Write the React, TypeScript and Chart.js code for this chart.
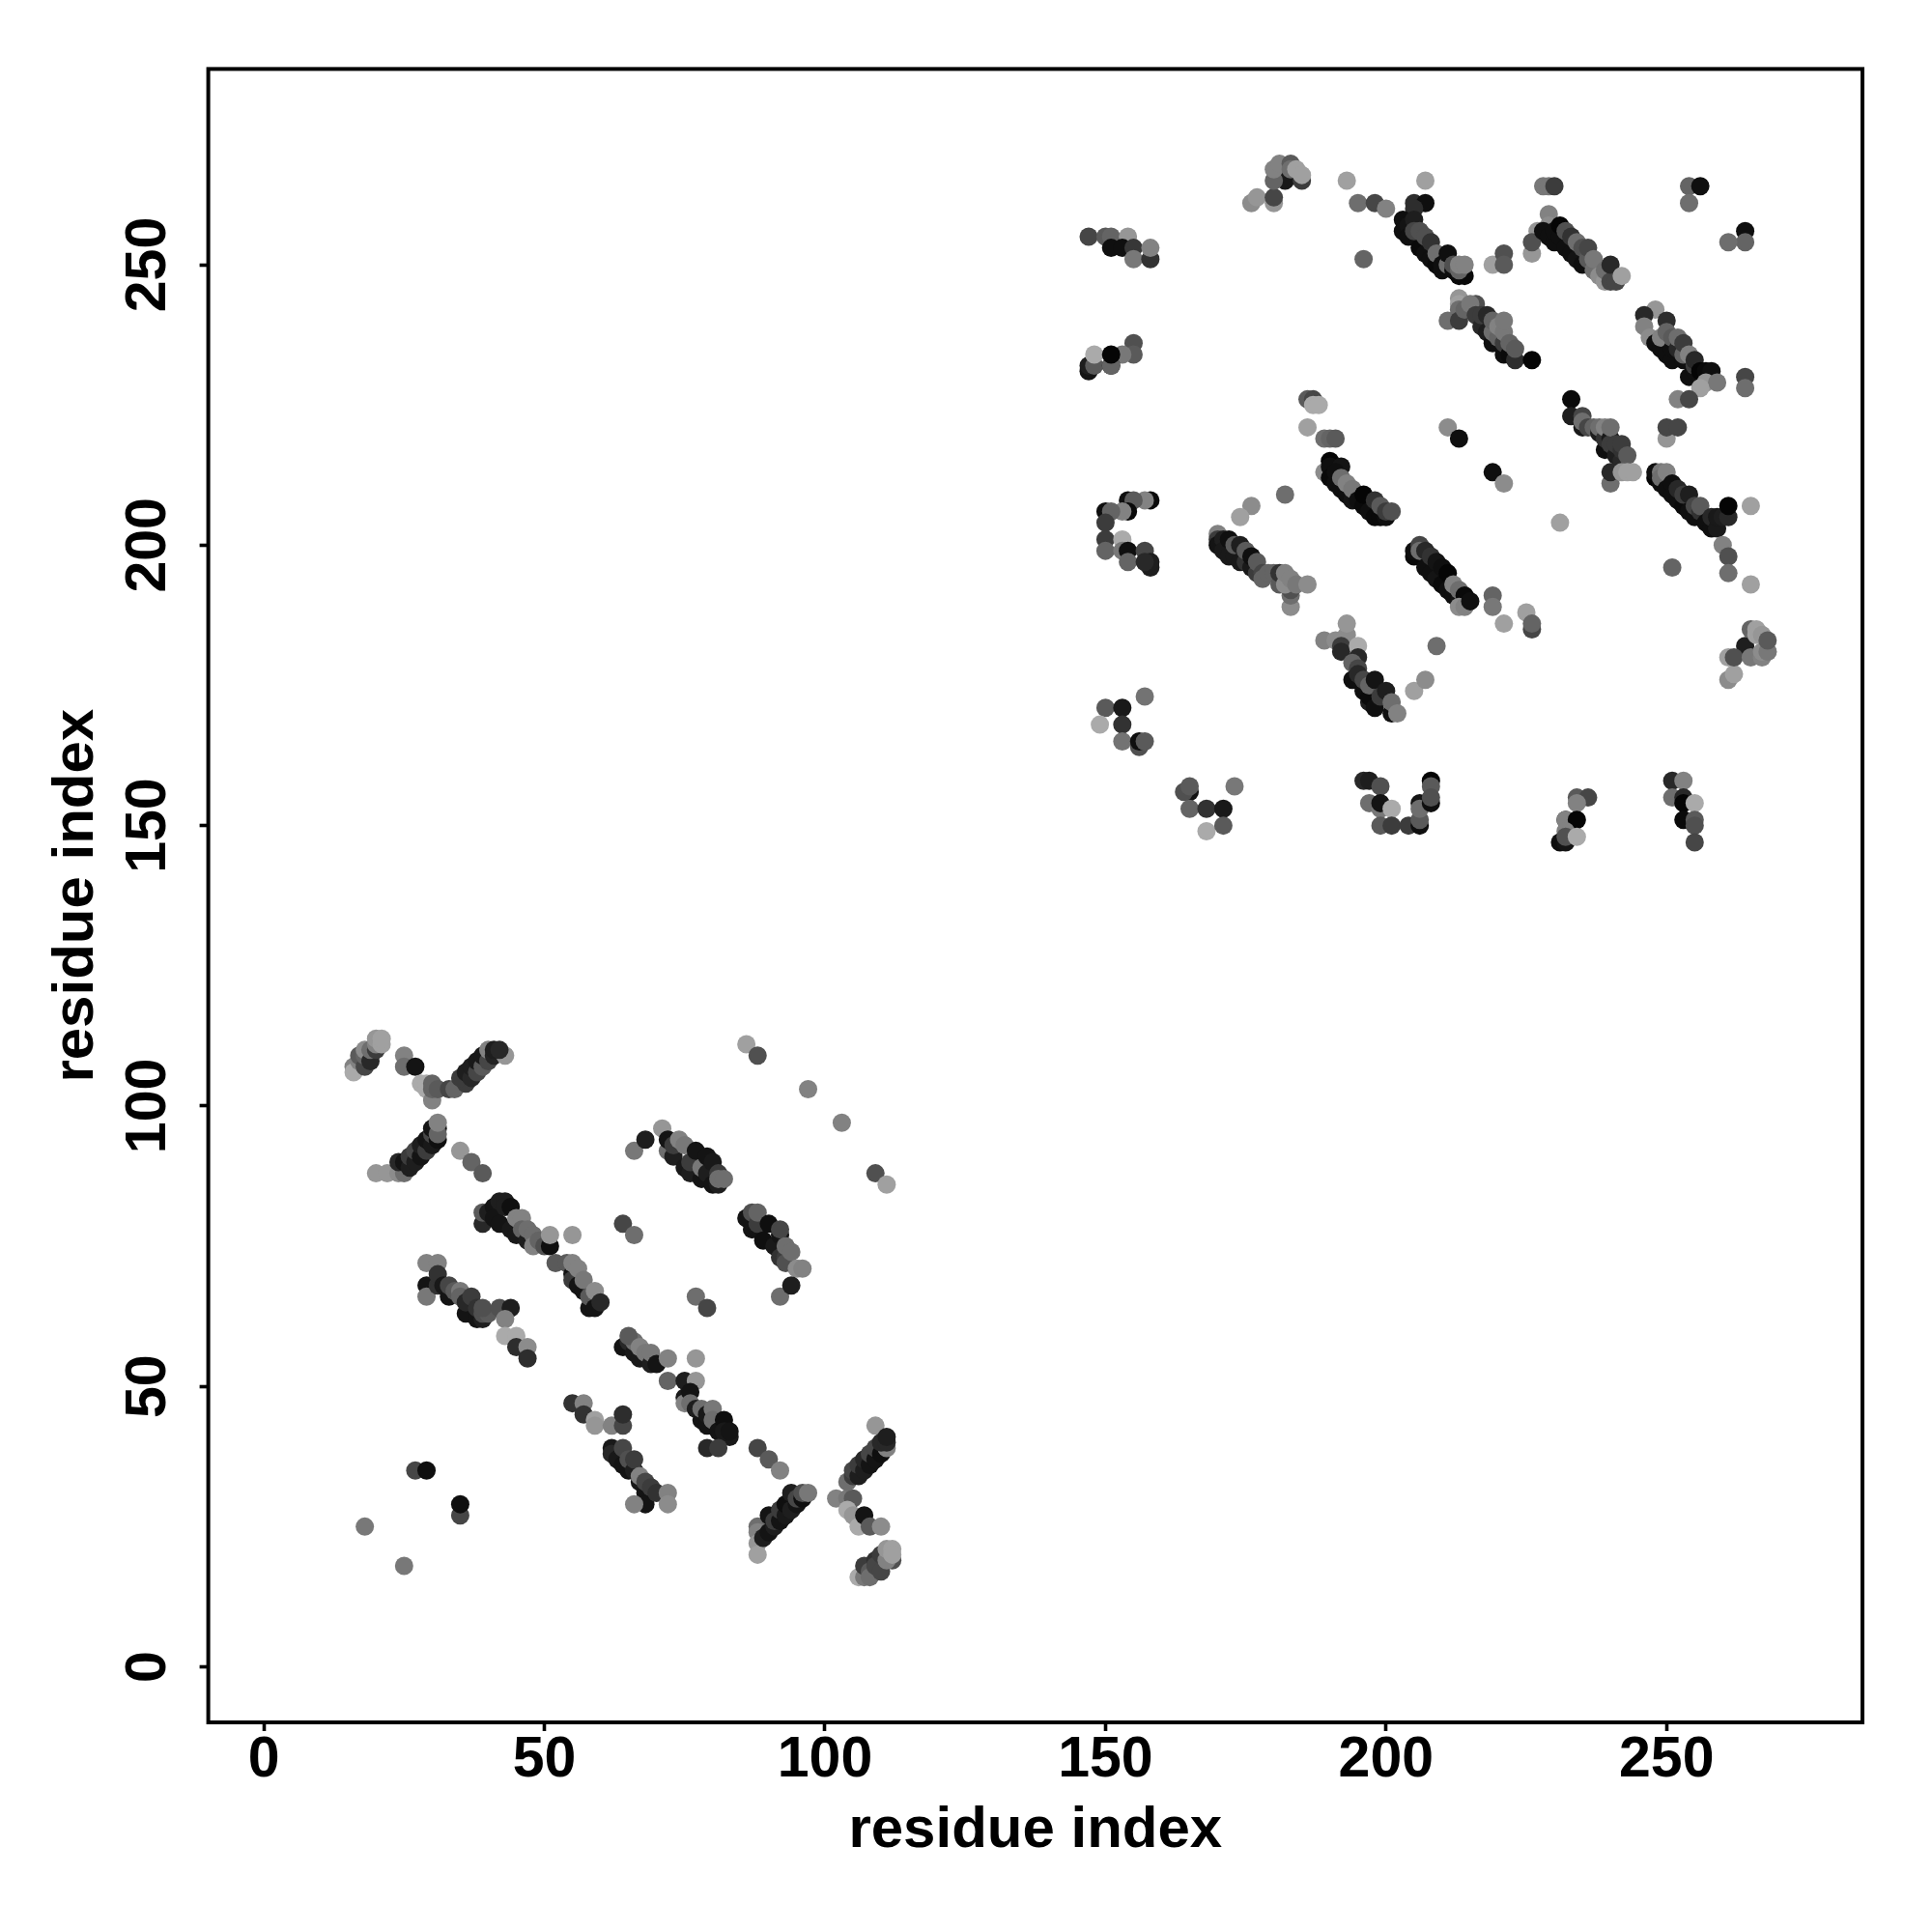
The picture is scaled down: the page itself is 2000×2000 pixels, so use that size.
import React, { useEffect, useRef } from "react";
import { Chart, registerables } from "chart.js";

Chart.register(...registerables);

// Each contact is [residue x, residue y, grey level of the contact].
type Contact = [number, number, number];

const tickValues = [0, 50, 100, 150, 200, 250];
const axisTitle = "residue index";

const lowerHairpinTop: Contact[] = [
  [16,107,130],[16,106,170],[17,108,130],[17,109,90],[18,107,70],[18,109,100],[18,110,140],[19,108,40],[19,110,110],[20,110,60],[20,111,130],[20,112,150],[21,111,160],[21,112,160],
  [25,109,130],[25,107,110],[27,107,20],[28,104,170],[29,103,170],[29,104,170],[30,101,130],[30,103,100],[30,104,100],[31,103,90],[33,103,70],[34,103,100],
  [36,104,60],[35,105,60],[36,106,30],[37,105,40],[37,107,30],[38,106,70],[38,108,25],[39,107,90],[39,109,25],[40,108,70],[40,110,130],[41,109,35],[41,110,30],[43,109,150],[42,110,40],
];
const lowerHairpinBottom: Contact[] = [
  [20,88,150],[22,88,150],[24,88,140],[25,88,110],[24,90,40],[25,90,20],[26,89,30],[26,91,60],[27,90,30],[27,92,70],[28,91,20],[28,93,30],[29,92,60],[29,94,20],[30,93,25],[30,95,70],[31,94,15],[31,96,20],[30,96,20],[31,95,100],[31,97,130],
  [35,92,150],[37,90,100],[39,88,90],
];
const lowerStrandA: Contact[] = [
  [39,79,40],[39,81,90],[40,81,30],[41,82,20],[41,80,20],[42,83,30],[42,79,20],[43,83,30],[43,82,30],[44,82,15],[44,78,25],[45,77,25],[45,80,130],[46,80,130],[46,78,100],[47,76,30],[47,78,110],[48,77,110],[48,75,130],[49,76,100],[50,75,80],[51,75,15],[51,77,150],[55,77,150],[52,72,90],
  [64,79,70],[66,77,110],
];
const lowerStrandB: Contact[] = [
  [54,72,90],[55,70,20],[55,69,60],[55,72,130],[56,68,20],[56,71,130],[57,67,20],[57,69,120],[58,64,20],[58,66,90],[59,64,20],[59,67,140],[60,65,40],
];
const lowerStrandC: Contact[] = [
  [29,72,130],[29,68,20],[29,66,120],[31,72,130],[31,68,50],[31,70,50],[32,68,25],[33,66,20],[33,68,70],[34,67,90],[35,67,120],[35,66,100],[36,63,20],[36,65,40],[37,66,60],[38,62,20],[38,64,50],[39,62,30],[39,63,80],[40,63,90],[39,64,80],[42,64,80],[44,64,30],[43,62,130],
  [43,59,170],[45,59,170],[45,57,45],[47,57,140],[47,55,45],
];
const lowerStrandD: Contact[] = [
  [64,57,20],[65,58,40],[66,56,25],[66,58,110],[65,59,90],[67,55,25],[67,57,130],[68,56,120],[69,54,30],[69,56,120],[70,54,20],[72,55,130],[72,51,100],[75,51,30],[77,55,150],[77,51,150],
  [75,48,25],[75,47,130],[76,49,20],[76,47,110],[77,46,30],[78,44,20],[78,46,110],[79,43,20],[79,45,25],[80,46,120],[80,44,110],[81,42,20],[82,44,15],[82,42,25],[83,41,25],[83,42,20],[79,39,40],[81,39,60],
  [77,66,110],[79,64,70],
];
const lowerStrandE: Contact[] = [
  [55,47,50],[57,47,130],[57,45,50],[59,44,160],[59,43,150],[62,43,130],[64,43,70],[64,45,45],[62,39,25],[62,38,40],[63,37,25],[64,36,20],[64,39,70],[65,35,20],[65,37,80],[66,35,30],[66,37,60],[67,33,25],[67,34,130],[68,31,20],[68,33,70],[69,32,60],[68,29,20],[66,29,130],[70,31,50],[72,31,130],[72,29,140],
];
const lowerSparse: Contact[] = [
  [27,35,70],[29,35,15],[35,27,70],[35,29,15],[18,25,120],[25,18,120],
  [86,111,160],[88,109,80],[97,103,130],[103,97,130],[109,88,80],[111,86,160],
  [88,39,70],[90,37,90],[92,35,130],
];
const lowerCross: Contact[] = [
  [88,25,110],[88,24,130],[88,22,150],[88,20,160],[89,23,30],[90,24,20],[90,27,20],[91,25,30],[91,26,60],[92,26,20],[92,28,60],[93,27,25],[93,29,15],[94,28,30],[94,31,30],[95,29,20],[95,30,70],[96,30,15],[96,31,80],[97,31,120],
  [102,30,130],[104,30,120],[105,30,90],[104,28,170],[105,27,150],[106,25,170],[107,27,20],[108,25,90],[110,25,140],
  [104,33,110],[105,34,60],[105,35,70],[106,34,30],[106,36,60],[107,35,30],[107,37,40],[108,36,20],[108,38,70],[109,37,20],[109,39,70],[110,38,15],[109,43,150],[111,39,130],[110,40,40],[111,40,40],[111,41,30],
  [106,16,170],[107,16,120],[107,18,60],[108,17,90],[108,16,110],[109,19,50],[109,18,70],[110,20,60],[110,17,70],[112,19,80],[111,19,130],[111,21,150],[112,21,160],[112,20,160],
];
const lowerStrandF: Contact[] = [
  [66,92,120],[68,94,30],[71,96,150],[72,92,110],[72,94,20],[73,91,30],[73,93,60],[75,89,25],[76,88,30],[76,90,60],[74,94,130],[75,93,120],[77,92,20],[78,87,20],[78,89,120],[79,88,30],[79,91,20],[80,86,20],[80,90,25],[81,86,30],[81,88,60],[81,87,110],[82,87,110],
];
const lowerStrandG: Contact[] = [
  [86,80,20],[87,78,20],[87,81,80],[88,78,20],[88,79,60],[88,81,100],[89,76,15],[90,79,15],[91,75,25],[92,77,20],[92,73,50],[92,78,70],[93,73,60],[93,75,110],[93,72,80],[94,74,110],[95,71,140],[96,71,130],[92,66,110],[94,68,30],
];

const upperColumnA: Contact[] = [
  [147,255,70],[150,255,90],[151,255,100],[154,255,150],[151,253,15],[153,253,15],[155,253,55],[155,251,120],[158,251,50],[158,253,130],
  [155,236,80],[155,234,90],[153,234,120],[147,231,20],[147,232,30],[148,232,90],[148,234,170],[151,232,15],[151,232,100],[151,234,5],
  [158,208,10],[157,208,130],[154,208,15],[155,208,90],[154,206,10],[153,206,130],[150,206,15],[151,206,100],[150,204,60],[150,201,60],[150,199,100],[153,201,170],[153,199,120],[154,199,15],[154,197,100],[157,199,70],[158,196,30],[158,197,30],[157,197,40],
  [150,171,90],[153,171,25],[149,168,170],[153,168,50],[153,165,115],[157,173,115],[156,164,80],[156,165,15],[157,165,90],
];
const upperColumnB: Contact[] = [
  [165,156,20],[164,156,80],[165,157,90],[165,153,100],[168,153,50],[171,153,25],[168,149,170],[171,150,90],[173,157,120],
  [196,158,40],[197,158,30],[199,157,80],[197,154,110],[199,153,120],[199,154,20],[201,153,170],[199,150,90],[201,150,60],[204,150,60],[206,150,15],[206,151,90],[206,154,20],[206,153,110],[208,158,5],[208,154,15],[208,157,90],[208,155,80],
  [234,155,90],[236,155,70],[234,154,130],[232,151,20],[232,151,130],[234,151,5],[232,149,130],[231,147,15],[232,147,20],[232,148,80],[234,148,170],
  [251,158,40],[253,158,130],[251,155,110],[253,155,40],[253,154,5],[255,154,170],[253,151,10],[255,151,90],[255,150,80],[255,147,70],
];
const upperStrandA: Contact[] = [
  [182,209,110],[176,207,140],[174,205,160],
  [170,202,130],[170,201,60],[170,200,20],[171,201,30],[171,199,25],[172,198,25],[172,201,15],[173,198,25],[173,200,90],[174,197,25],[174,200,30],[175,197,50],[175,199,90],[176,196,25],[176,198,15],[177,195,60],[177,197,90],[178,195,70],[178,194,100],[179,195,100],[180,195,100],[181,193,90],[181,195,50],[183,189,140],[183,191,110],[183,192,80],[182,193,140],[182,195,130],[183,194,130],[184,193,120],[186,193,140],
];
const upperStrandB: Contact[] = [
  [186,226,90],[187,226,70],[187,225,170],[188,225,170],[186,221,160],[189,219,110],[190,219,100],[191,219,90],
  [189,213,140],[190,215,5],[190,214,15],[190,212,10],[191,211,15],[192,214,20],[191,213,15],[192,210,15],[192,212,110],[193,209,15],[193,211,130],[194,208,20],[194,210,120],[195,208,15],[196,207,10],[196,209,5],[197,206,15],[198,205,10],[198,208,50],[199,205,10],[199,207,90],[200,205,15],[200,206,60],[201,206,80],
  [211,221,140],[213,219,15],[219,213,15],[221,211,140],[231,204,160],
];
const upperStrandC: Contact[] = [
  [205,198,10],[205,199,15],[206,200,70],[206,199,110],[207,196,15],[207,199,40],[208,195,15],[208,198,50],[209,194,20],[209,197,20],[210,193,10],[210,196,15],[211,192,15],[211,195,5],[212,191,15],[212,193,130],[213,190,20],[213,192,110],[214,191,10],[213,189,140],[214,189,130],[215,190,15],
  [219,191,100],[219,189,120],[221,186,160],[225,188,160],[226,185,70],[226,186,100],
];
const upperStrandD: Contact[] = [
  [233,226,10],[233,223,30],[235,221,25],[235,223,70],[235,222,110],[236,221,70],[237,221,100],[238,220,30],[238,221,110],[239,217,15],[239,219,50],[239,221,130],[240,219,25],[240,218,60],[240,221,110],[241,216,30],[241,218,60],[242,215,40],[242,217,50],[242,218,60],[243,216,90],[240,211,110],[240,213,40],[242,213,150],[243,213,160],[244,213,160],
];
const upperStrandE: Contact[] = [
  [248,212,5],[248,213,15],[249,211,15],[249,213,120],[249,212,110],[250,213,130],[250,210,15],[251,209,15],[251,211,15],[252,208,15],[252,210,40],[253,207,10],[253,209,60],[254,206,15],[254,209,30],[255,205,15],[255,207,70],[256,206,50],[256,207,90],[257,204,15],[258,203,15],[258,205,40],[259,203,25],[259,205,25],[260,205,30],[261,205,40],[261,207,5],[265,207,160],
  [260,200,130],[261,198,80],[261,195,110],[265,193,160],[251,196,100],
];
const upperCornerRight: Contact[] = [
  [264,182,30],[261,176,140],[262,177,160],[261,180,160],[262,180,80],[265,180,120],[267,180,130],[268,181,130],[265,185,100],[266,185,160],[266,184,160],[267,184,150],[267,181,140],[268,181,120],[268,183,90],
];
const upperStrandV: Contact[] = [
  [189,183,130],[191,183,140],[193,183,130],[193,184,140],[193,186,150],[192,182,60],[192,181,40],[195,182,170],[194,176,15],[195,180,40],[194,179,100],[195,178,70],[195,177,40],[196,174,15],[196,176,70],[197,172,30],[197,173,10],[197,175,100],[198,176,20],[198,171,15],[199,173,60],[200,174,30],[201,170,15],[201,172,110],[202,170,130],
  [205,174,160],[207,176,140],[209,182,110],
];
const upperTop: Contact[] = [
  [176,261,140],[177,262,150],[180,261,150],[180,262,70],[182,265,25],[180,265,100],[180,267,130],[181,268,130],[185,265,60],[183,268,90],[183,267,110],[184,267,160],[185,266,160],
  [193,265,160],[207,265,160],[195,261,110],[198,261,70],[200,260,130],[196,251,100],
];
const upperStrandF: Contact[] = [
  [205,261,45],[207,261,15],[205,260,45],[203,258,15],[203,256,15],[204,257,20],[204,255,15],[205,258,30],[206,253,10],[205,256,70],[206,256,80],[207,252,15],[207,255,80],[208,251,15],[208,254,50],[209,250,10],[209,252,110],[210,249,15],[210,250,15],[211,250,110],[211,252,15],[212,249,15],[212,250,80],[213,248,10],[214,248,10],[213,249,100],[213,250,130],[214,250,130],
  [219,250,160],[221,252,80],[221,250,90],
];
const upperStrandG: Contact[] = [
  [228,264,120],[229,264,120],[230,264,60],[229,259,130],[229,257,140],[227,256,150],[226,252,150],[226,254,80],[228,256,15],[229,255,15],[230,254,15],[230,256,15],[231,255,15],[231,257,5],[232,253,15],[232,256,80],[233,252,15],[233,255,50],[234,251,20],[234,254,110],[235,250,15],[235,253,80],[236,251,90],[236,253,70],[237,249,110],[237,251,120],[238,248,140],[239,247,150],[239,249,110],[240,247,70],[240,250,40],[241,247,70],[242,248,160],
  [254,264,100],[256,264,15],[254,261,110],[264,256,15],[264,254,100],[261,254,110],
];
const upperStrandH: Contact[] = [
  [213,244,150],[213,243,160],[213,242,110],[211,240,110],[213,240,60],[216,243,80],[214,242,100],[215,243,120],[216,241,60],[217,239,40],[217,241,60],[218,238,30],[218,241,40],[219,236,15],[219,238,110],[219,240,100],[220,237,100],[220,239,130],[221,234,15],[221,236,60],[221,238,120],[221,240,120],[222,234,10],[222,236,100],[223,233,45],[223,235,90],[226,233,5],
];
const upperStrandI: Contact[] = [
  [248,242,150],[246,241,40],[246,239,130],[247,237,140],[250,240,45],[248,236,15],[249,235,15],[249,237,130],[250,234,15],[250,238,100],[251,233,15],[251,235,15],[251,237,90],[252,235,40],[252,237,110],[253,233,15],[253,234,100],[253,236,60],[254,230,15],[254,234,130],[255,231,15],[255,232,60],[255,233,40],[256,229,15],[256,231,5],[257,231,10],[258,231,15],[257,229,150],[259,229,120],[256,228,160],
  [252,226,130],[254,226,70],[264,230,70],[264,228,110],[250,219,150],[250,221,70],[252,221,70],
];

const contacts: Contact[] = [
  ...lowerHairpinTop, ...lowerHairpinBottom, ...lowerStrandA, ...lowerStrandB, ...lowerStrandC, ...lowerStrandD, ...lowerStrandE,
  ...lowerSparse, ...lowerCross, ...lowerStrandF, ...lowerStrandG,
  ...upperColumnA, ...upperColumnB, ...upperStrandA, ...upperStrandB, ...upperStrandC, ...upperStrandD, ...upperStrandE,
  ...upperCornerRight, ...upperStrandV, ...upperTop, ...upperStrandF, ...upperStrandG, ...upperStrandH, ...upperStrandI,
];

const TICK_FONT = { family: "'Liberation Sans', Arial, sans-serif", weight: "bold" as const, size: 59 };
const TITLE_FONT = { family: "'Liberation Sans', Arial, sans-serif", weight: "bold" as const, size: 60 };

const framePlugin = {
  id: "frame",
  afterDatasetsDraw(chart: any) {
    const { ctx, chartArea: a } = chart;
    ctx.save();
    ctx.strokeStyle = "#000";
    ctx.lineWidth = 4;
    ctx.strokeRect(a.left, a.top, a.right - a.left, a.bottom - a.top);
    ctx.restore();
  },
};

function axisOptions(isX: boolean) {
  return {
    type: "linear" as const,
    min: -9.9,
    max: 284.9,
    afterBuildTicks(scale: any) {
      scale.ticks = tickValues.map((value) => ({ value }));
    },
    afterFit(scale: any) {
      if (isX) scale.height = 217;
      else scale.width = 215.6;
    },
    border: { display: false },
    grid: {
      display: true,
      drawOnChartArea: false,
      drawTicks: true,
      tickLength: 9,
      tickWidth: 3.6,
      tickColor: "#000",
    },
    ticks: isX
      ? { color: "#000", font: TICK_FONT, padding: -5, maxRotation: 0, minRotation: 0, autoSkip: false, callback: (v: any) => String(v) }
      : { color: "#000", font: TICK_FONT, padding: 3, minRotation: 90, maxRotation: 90, crossAlign: "center" as const, autoSkip: false, callback: (v: any) => String(v) },
    title: {
      display: true,
      text: axisTitle,
      color: "#000",
      font: TITLE_FONT,
      padding: isX ? { top: 0, bottom: 69 } : { top: 43, bottom: 0 },
    },
  };
}

export default function App() {
  const ref = useRef<HTMLCanvasElement>(null);
  useEffect(() => {
    const chart = new Chart(ref.current!, {
      type: "scatter",
      data: {
        datasets: [
          {
            data: contacts.map(([x, y]) => ({ x, y })),
            pointRadius: 9.5,
            pointBorderWidth: 0,
            pointBackgroundColor: contacts.map(([, , g]) => `rgb(${g},${g},${g})`),
          },
        ],
      },
      options: {
        animation: false,
        responsive: false,
        devicePixelRatio: 1,
        layout: { padding: { left: 0, top: 71.4, right: 72, bottom: 0 } },
        plugins: { legend: { display: false }, tooltip: { enabled: false } },
        scales: { x: axisOptions(true), y: axisOptions(false) },
      },
      plugins: [framePlugin],
    } as any);
    return () => chart.destroy();
  }, []);
  return (
    <canvas
      ref={ref}
      width={2000}
      height={2000}
      style={{ position: "absolute", left: 0, top: 0, width: 2000, height: 2000, background: "#fff" }}
    />
  );
}
